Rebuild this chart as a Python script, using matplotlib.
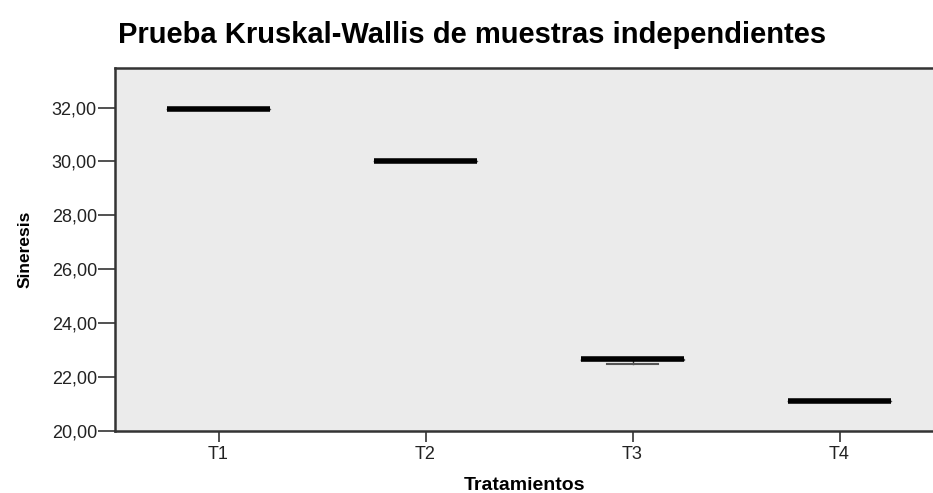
import matplotlib
matplotlib.use("Agg")
from matplotlib import pyplot as plt
from matplotlib.ticker import FuncFormatter

plt.rcParams['font.family'] = ['Liberation Sans', 'DejaVu Sans']

# data
groups = ['T1', 'T2', 'T3', 'T4']
medians = [31.95, 30.0, 22.68, 21.12]
q1 = [31.95, 30.0, 22.62, 21.12]
q3 = [31.95, 30.0, 22.68, 21.12]
whislo = [31.95, 30.0, 22.47, 21.12]
whishi = [31.95, 30.0, 22.68, 21.12]

stats = []
for i in range(len(groups)):
    stats.append({'label': groups[i], 'med': medians[i], 'q1': q1[i], 'q3': q3[i],
                  'whislo': whislo[i], 'whishi': whishi[i], 'fliers': []})

fig = plt.figure(figsize=(9.33, 4.93), dpi=100)
ax = fig.add_axes([115 / 933, 1 - 431 / 493, 818 / 933, (431 - 68) / 493])
ax.set_facecolor('#ebebeb')

ax.bxp(stats, positions=[1, 2, 3, 4], widths=0.5, capwidths=0.25,
       boxprops=dict(color='#555555', linewidth=1),
       whiskerprops=dict(color='#333333', linewidth=1),
       capprops=dict(color='#555555', linewidth=1.5),
       medianprops=dict(color='black', linewidth=4, solid_capstyle='butt'))

ax.set_xlim(0.5, 0.5 + 818 / 207)
ax.set_ylim(20, 20 + (431 - 68) / 26.95)
ax.set_yticks([20, 22, 24, 26, 28, 30, 32])
ax.yaxis.set_major_formatter(FuncFormatter(lambda v, p: ('%.2f' % v).replace('.', ',')))
ax.set_xticks([1, 2, 3, 4])
ax.set_xticklabels(groups)

for s in ['left', 'bottom', 'top']:
    ax.spines[s].set_linewidth(1.8)
    ax.spines[s].set_color('#333333')
ax.spines['right'].set_visible(False)
ax.tick_params(axis='both', direction='out', width=1.2, color='#333333',
               labelsize=13, labelcolor='#222222')
ax.tick_params(axis='y', length=12, pad=1)
ax.tick_params(axis='x', length=8, pad=3)

ax.set_ylabel('Sineresis', fontsize=12.5, fontweight='bold', labelpad=14)
ax.set_xlabel('Tratamientos', fontsize=14, fontweight='bold', labelpad=10)
fig.text(0.506, 0.93, 'Prueba Kruskal-Wallis de muestras independientes',
         ha='center', va='center', fontsize=21, fontweight='bold')

plt.savefig('out.png', dpi=100)
